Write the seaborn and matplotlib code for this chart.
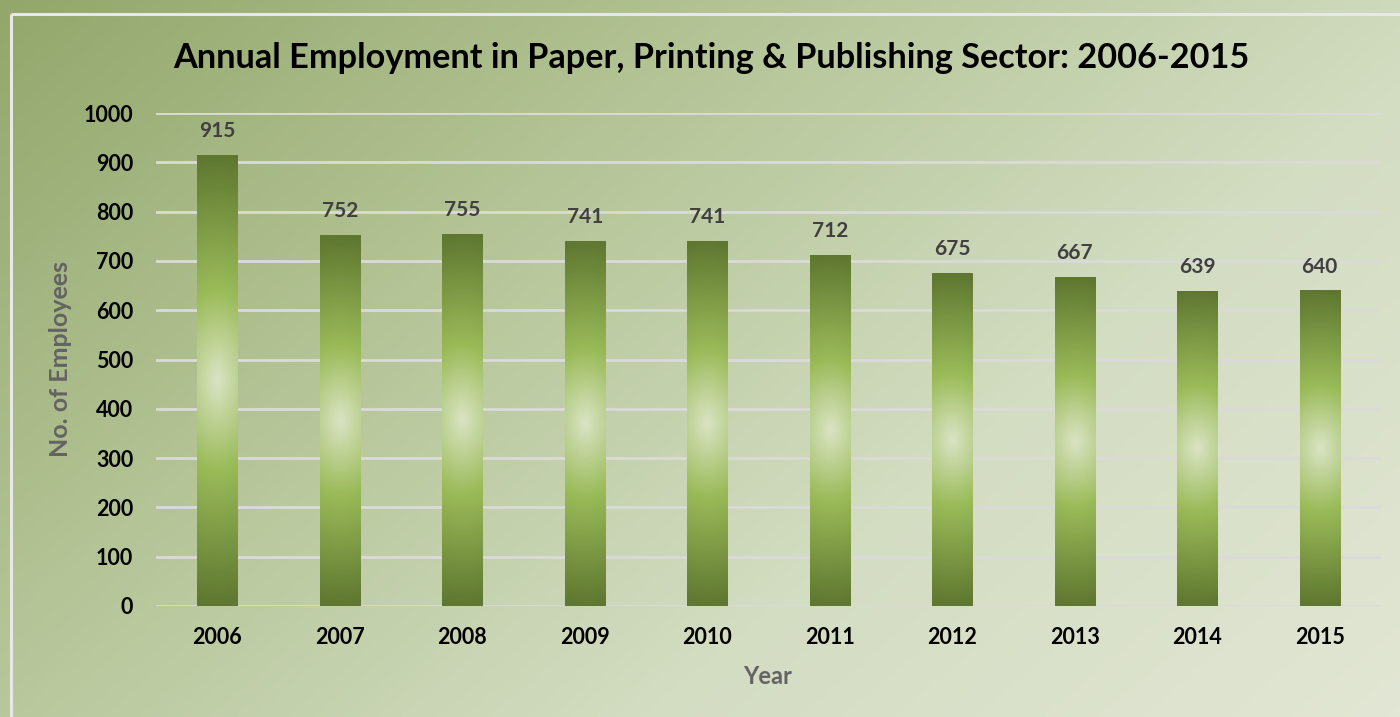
import numpy as np
import pandas as pd
import matplotlib
matplotlib.use("Agg")
import matplotlib.pyplot as plt
import seaborn as sns
from matplotlib.colors import LinearSegmentedColormap

years = ["2006", "2007", "2008", "2009", "2010", "2011", "2012", "2013", "2014", "2015"]
employees = [915, 752, 755, 741, 741, 712, 675, 667, 639, 640]
yticks = [0, 100, 200, 300, 400, 500, 600, 700, 800, 900, 1000]

title = "Annual Employment in Paper, Printing & Publishing Sector: 2006-2015"
xlabel = "Year"
ylabel = "No. of Employees"

sns.set_theme(style="white")
FONT = ["Lato", "DejaVu Sans"]
plt.rcParams["font.family"] = FONT

W, H = 1400, 717
fig = plt.figure(figsize=(W / 100, H / 100), dpi=100)

# background diagonal gradient
bg = fig.add_axes([0, 0, 1, 1], zorder=-10)
bg.set_axis_off()
yy, xx = np.mgrid[0:1:200j, 0:1:400j]
t = np.clip(0.62 * xx + 0.38 * yy, 0, 1)
bg_cmap = LinearSegmentedColormap.from_list("bg", ["#93a76b", "#b4c496", "#d3ddc2", "#e2e6d4"])
bg.imshow(t, cmap=bg_cmap, aspect="auto", extent=[0, 1, 0, 1], origin="upper", vmin=0, vmax=1)
bg.set_xlim(0, 1)
bg.set_ylim(0, 1)
# white frame lines
bg.plot([11 / W, 11 / W], [0, 1 - 14 / H], color="#e8e8e8", lw=2.2, solid_capstyle="butt")
bg.plot([11 / W, 1], [1 - 14 / H, 1 - 14 / H], color="#e8e8e8", lw=2.2, solid_capstyle="butt")

ax = fig.add_axes([156 / W, 1 - 606 / H, (1381 - 156) / W, (606 - 113) / H])
ax.patch.set_alpha(0)

df = pd.DataFrame({"Year": years, "Employees": employees})
sns.barplot(data=df, x="Year", y="Employees", ax=ax, width=0.33, color="#7d9a43", zorder=3)

ax.set_ylim(0, 1000)
ax.set_yticks(yticks)
ax.set_xlim(-0.5, len(years) - 0.5)
for y in yticks:
    ax.axhline(y, color="#dadada", lw=2, zorder=1)

bar_cmap = LinearSegmentedColormap.from_list(
    "bar", [(0.0, "#5f7730"), (0.3, "#9bbb59"), (0.5, "#dae4c4"), (0.7, "#9bbb59"), (1.0, "#5f7730")]
)
for p in ax.patches:
    x0, w = p.get_x(), p.get_width()
    h = p.get_height()
    vy = np.linspace(0, 1, 300)[:, None]
    vx = np.linspace(-1, 1, 60)[None, :]
    d = np.abs(vy - 0.5) * 2
    val = 0.5 - 0.5 * np.clip(np.sqrt(d ** 2 + (0.18 * vx) ** 2), 0, 1)
    img = ax.imshow(val, cmap=bar_cmap, vmin=0, vmax=1, aspect="auto",
                    extent=[x0, x0 + w, 0, h], origin="lower", zorder=3.5)
    img.set_clip_path(p)
    p.set_edgecolor("none")
    ax.annotate(f"{int(h)}", (x0 + w / 2, h), xytext=(0, 10), textcoords="offset points",
                ha="center", va="bottom", fontsize=15, fontweight="bold", color="#404040",
                family=FONT)

ax.set_xlim(-0.5, len(years) - 0.5)
ax.set_ylim(0, 1000)
sns.despine(ax=ax, left=True, bottom=True, top=True, right=True)
ax.tick_params(axis="y", length=0, pad=16.5, labelsize=15.5)
ax.tick_params(axis="x", length=0, pad=15, labelsize=15.5)
for lab in ax.get_xticklabels() + ax.get_yticklabels():
    lab.set_fontweight("bold")
    lab.set_color("black")
ax.set_xlabel("")
ax.set_ylabel("")

fig.text(768 / W, 1 - 677 / H, xlabel, ha="center", va="center", fontsize=17,
         fontweight="bold", color="#636363")
fig.text(61 / W, 1 - 359 / H, ylabel, ha="center", va="center", rotation=90, fontsize=18,
         fontweight="bold", color="#636363")
fig.text(711 / W, 1 - 58 / H, title, ha="center", va="center", fontsize=24.7,
         fontweight="bold", color="black")

fig.savefig("out.png", dpi=100)
